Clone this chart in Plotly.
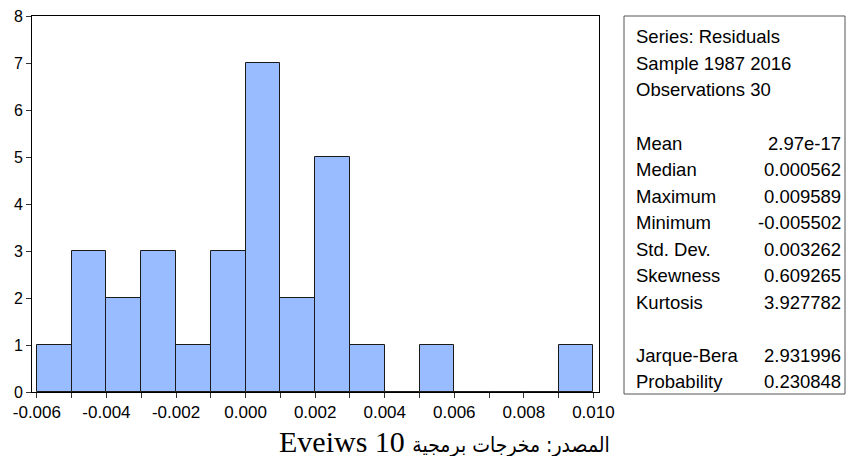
import plotly.graph_objects as go

# ---- data ----
bin_left = [-0.006, -0.005, -0.004, -0.003, -0.002, -0.001, 0.000, 0.001,
            0.002, 0.003, 0.004, 0.005, 0.006, 0.007, 0.008, 0.009]
counts = [1, 3, 2, 3, 1, 3, 7, 2, 5, 1, 0, 1, 0, 0, 0, 1]
bin_width = 0.001

header_lines = ["Series: Residuals", "Sample 1987 2016", "Observations 30"]
stat_labels = ["Mean", "Median", "Maximum", "Minimum", "Std. Dev.",
               "Skewness", "Kurtosis"]
stat_values = ["2.97e-17", "0.000562", "0.009589", "-0.005502", "0.003262",
               "0.609265", "3.927782"]
test_labels = ["Jarque-Bera", "Probability"]
test_values = ["2.931996", "0.230848"]

x_tickvals = [-0.006, -0.004, -0.002, 0.000, 0.002, 0.004, 0.006, 0.008, 0.010]
x_ticktext = ["-0.006", "-0.004", "-0.002", "0.000", "0.002", "0.004",
              "0.006", "0.008", "0.010"]
caption_ar = "المصدر: مخرجات برمجية"
caption_en = "Eveiws 10"

OFF = 8  # page body margin
W, H = 855 - 2 * OFF, 464 - 2 * OFF
FONT = "Liberation Sans, Arial, sans-serif"

centers = [b + bin_width / 2 for b in bin_left]

fig = go.Figure()
fig.add_trace(go.Bar(
    x=centers, y=counts, width=bin_width,
    marker=dict(color="#99BBFF", line=dict(color="#1a1a1a", width=1)),
    hoverinfo="skip",
))

# reference pixel positions (absolute in the 855x464 picture)
left_px, right_px, top_px, bottom_px = 32 - OFF, 599 - OFF, 16 - OFF, 392 - OFF
fig.update_layout(
    width=W, height=H,
    margin=dict(l=left_px, r=W - right_px, t=top_px, b=H - bottom_px, pad=0,
                autoexpand=False),
    plot_bgcolor="white", paper_bgcolor="white",
    showlegend=False, bargap=0,
    font=dict(family=FONT, color="black", size=16),
)
fig.update_xaxes(
    range=[-0.00614, 0.01016],
    tickvals=x_tickvals, ticktext=x_ticktext,
    ticks="outside", ticklen=5, tickwidth=1, tickcolor="#333",
    minor=dict(dtick=0.001, tick0=-0.006, ticks="outside", ticklen=5,
               tickwidth=1, tickcolor="#333"),
    showline=True, linecolor="black", linewidth=1, mirror=True,
    showgrid=False, zeroline=False, ticklabeloverflow="allow",
    tickfont=dict(family=FONT, size=17, color="black"),
)
fig.update_yaxes(
    range=[0, 8], dtick=1,
    ticks="outside", ticklen=5, tickwidth=1, tickcolor="#333",
    showline=True, linecolor="black", linewidth=1, mirror=True,
    showgrid=False, zeroline=False, ticklabeloverflow="allow",
    tickfont=dict(family=FONT, size=16, color="black"),
)


def px_x(px):
    return (px - OFF - left_px) / (right_px - left_px)


def px_y(py):
    return (bottom_px - (py - OFF)) / (bottom_px - top_px)


# stats box
box_l, box_r, box_t, box_b = 624, 845, 16, 394
fig.add_shape(type="rect", xref="paper", yref="paper",
              x0=px_x(box_l), x1=px_x(box_r),
              y0=px_y(box_b), y1=px_y(box_t),
              line=dict(color="#555", width=1), fillcolor="white")

line_h = 26.5
first_y = 37
STAT_SIZE = 18.5


def add_text(text, x, y, anchor):
    fig.add_annotation(text=text, xref="paper", yref="paper",
                       x=px_x(x), y=px_y(y), xanchor=anchor, yanchor="middle",
                       showarrow=False,
                       font=dict(family=FONT, size=STAT_SIZE, color="black"))


rows = [(h, None) for h in header_lines]
rows.append((None, None))
rows += list(zip(stat_labels, stat_values))
rows.append((None, None))
rows += list(zip(test_labels, test_values))

for i, (l, v) in enumerate(rows):
    y = first_y + i * line_h
    if l is not None:
        add_text(l, 634, y, "left")
    if v is not None:
        add_text(v, 843, y, "right")

# caption (right-to-left embedding, Arabic part in a compact font)
caption_text = ("\u202B<span style='font-family:DejaVu Sans Condensed, DejaVu Sans; "
                "font-size:21px'>" + caption_ar + "</span> " + caption_en + "\u202C")
fig.add_annotation(text=caption_text, xref="paper", yref="paper",
                   x=px_x(444), y=px_y(442), xanchor="center", yanchor="middle",
                   showarrow=False,
                   font=dict(family="Liberation Serif, Times New Roman, serif",
                             size=30, color="black"))

fig.write_html("out.html")
